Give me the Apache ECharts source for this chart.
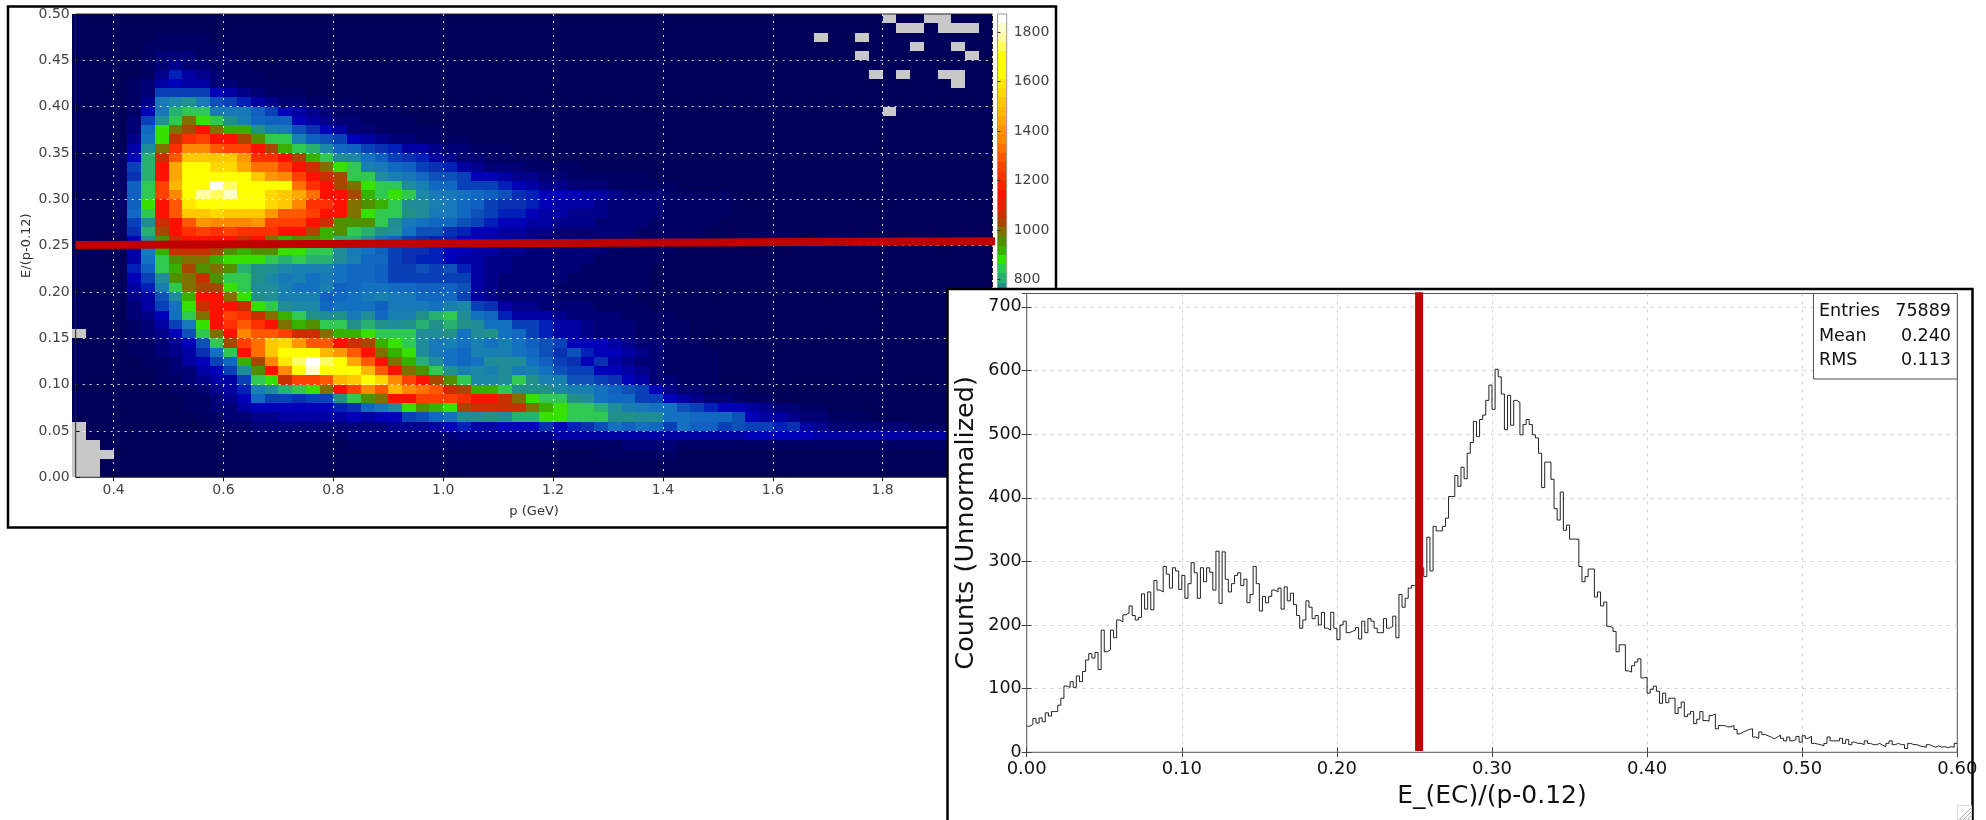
<!DOCTYPE html>
<html>
<head>
<meta charset="utf-8">
<style>html,body{margin:0;padding:0;background:#fff}#main{width:1986px;height:820px}#main canvas{filter:blur(.35px)}</style>
<script src="https://cdn.jsdelivr.net/npm/echarts@6/dist/echarts.min.js"></script>
</head>
<body>
<div id="main"></div>
<script>
// ---- 2D histogram: counts per cell. Columns start at p = 0.325 in 0.025 GeV steps; rows named by E/(p-0.12) low edge x 100
const rowE49=[4,4,4,6,14,20,24,26,26,24, 20,16,14,14,12,10,10,10,8,8, 8,8,8,8,8,6,6,6,6,6, 6,6,6,6,6,6,6,6,6,6, 5,5,5,5,5,5,5,5,5,5, 5,5,5,5,5,5,4,4,4,0, 4,4,0,0,4,4,4];
const rowE48=[4,4,5,8,16,24,30,32,30,28, 24,18,16,14,12,12,10,10,10,8, 8,8,8,8,8,8,8,6,6,6, 6,6,6,6,6,6,6,6,6,6, 5,5,5,5,5,5,5,5,5,5, 5,5,5,5,5,5,5,4,4,4, 0,0,4,0,0,0,4];
const rowE47=[4,4,6,10,20,30,40,42,44,38, 30,22,18,16,14,12,12,10,10,10, 10,8,8,8,8,8,8,8,8,6, 6,6,6,6,6,6,6,6,6,6, 5,5,5,5,5,5,5,5,5,5, 5,5,5,5,0,5,5,0,4,4, 4,4,4,4,4,4,4];
const rowE46=[4,4,6,12,25,40,60,65,60,50, 40,35,25,20,16,14,12,12,10,10, 10,10,8,8,8,8,8,8,8,8, 6,6,6,6,6,6,6,6,6,6, 6,5,5,5,5,5,5,5,5,5, 5,5,5,5,5,5,5,5,4,4, 4,0,4,4,0,4,4];
const rowE45=[4,4,6,14,30,50,80,90,80,70, 55,45,35,28,20,16,14,12,12,10, 10,10,10,8,8,8,8,8,8,8, 8,6,6,6,6,6,6,6,6,6, 6,6,5,5,5,5,5,5,5,5, 5,5,5,5,5,5,5,0,5,4, 4,4,4,4,4,0,4];
const rowE44=[4,4,7,14,30,60,110,125,110,90, 70,55,40,32,25,20,16,14,12,12, 10,10,10,10,8,8,8,8,8,8, 8,8,6,6,6,6,6,6,6,6, 6,6,6,5,5,5,5,5,5,5, 5,5,5,5,5,5,5,5,5,5, 4,4,4,4,4,4,4];
const rowE43=[4,4,7,14,35,70,130,240,150,120, 90,60,50,45,35,26,20,16,14,12, 12,10,10,10,10,8,8,8,8,8, 8,8,6,6,6,6,6,6,6,6, 6,6,6,6,5,5,5,5,5,5, 5,5,5,5,5,5,5,5,0,5, 0,5,5,0,0,4,4];
const rowE42=[4,4,8,14,40,80,170,200,180,150, 110,80,70,50,42,34,26,20,16,14, 12,12,10,10,10,10,8,8,8,8, 8,8,8,6,6,6,6,6,6,6, 6,6,6,6,6,5,5,5,5,5, 5,5,5,5,5,5,5,5,5,5, 5,5,5,5,0,4,4];
const rowE41=[4,5,8,14,40,90,300,310,320,310, 190,170,120,90,60,50,40,35,30,28, 25,22,20,18,16,15,14,14,12,12, 12,10,10,10,10,10,10,9,9,9, 8,8,8,8,8,8,8,8,8,8, 7,7,7,7,7,7,6,6,6,6, 6,6,6,6,6,6,6];
const rowE40=[4,5,8,16,60,130,520,590,640,490, 350,320,250,170,130,100,80,60,50,45, 40,35,30,28,25,22,20,18,16,15, 14,14,12,12,12,12,10,10,10,10, 10,10,9,9,9,9,8,8,8,8, 8,8,8,8,8,7,7,7,7,7, 7,7,7,6,6,6,6];
const rowE39=[4,5,9,18,70,200,520,800,830,830, 520,520,500,400,300,220,170,120,90,70, 60,50,45,40,35,30,28,25,22,20, 18,16,15,14,14,12,12,12,10,10, 10,10,10,9,9,9,9,8,8,8, 8,8,8,8,8,8,7,7,7,0, 7,7,7,7,6,6,6];
const rowE38=[4,5,10,22,90,300,650,860,995,890, 860,770,530,420,400,400,220,170,120,90, 75,60,50,45,40,35,30,28,25,22, 20,18,16,15,14,14,12,12,12,10, 10,10,10,10,9,9,9,9,8,8, 8,8,8,8,8,8,8,7,7,7, 7,7,7,7,7,6,6];
const rowE37=[4,5,11,25,110,420,890,990,1030,1140, 995,930,930,770,560,500,350,280,220,150, 110,85,70,60,50,45,40,35,30,26, 22,20,18,16,15,14,14,12,12,12, 11,11,10,10,10,10,9,9,9,9, 8,8,8,8,8,8,8,8,7,7, 7,7,7,7,7,7,6];
const rowE36=[4,5,12,28,130,480,890,1070,1200,1240, 1160,1140,1030,970,830,830,560,400,360,300, 190,160,130,100,80,65,55,48,42,36, 30,26,22,20,18,16,15,14,14,12, 12,12,11,11,10,10,10,10,9,9, 9,9,8,8,8,8,8,8,8,7, 7,7,7,7,7,7,7];
const rowE35=[4,6,14,32,160,600,995,1200,1350,1350, 1300,1240,1240,1160,1030,930,830,800,580,440, 380,300,280,260,180,150,120,95,75,60, 50,42,36,30,26,22,20,18,16,15, 14,14,12,12,12,11,11,10,10,10, 9,9,9,9,8,8,8,8,8,8, 8,7,7,7,7,7,7];
const rowE34=[5,7,16,40,200,800,1070,1300,1500,1500, 1500,1500,1420,1220,1220,1140,1030,930,850,620, 580,480,380,330,280,240,170,130,110,90, 70,60,50,42,36,30,26,22,20,18, 16,15,14,14,12,12,12,11,11,10, 10,10,9,9,9,9,8,8,8,8, 8,8,8,7,7,7,7];
const rowE33=[5,8,18,45,330,800,1160,1430,1640,1700, 1560,1540,1450,1340,1340,1240,1140,1070,995,890, 850,560,520,420,400,300,280,240,170,140, 110,90,80,70,55,48,42,36,30,26, 22,20,18,16,15,14,14,12,12,11, 11,10,10,10,9,9,9,9,8,8, 8,8,8,8,7,7,7];
const rowE32=[5,8,20,48,280,800,1160,1430,1640,1720, 1720,1640,1640,1520,1420,1350,1240,1140,1070,1030, 850,830,600,540,500,430,350,350,310,220, 200,180,140,120,95,80,70,60,55,50, 45,40,35,30,28,24,22,20,18,16, 15,14,14,12,12,11,11,10,10,10, 9,9,9,8,8,8,8];
const rowE31=[5,8,22,50,390,830,1240,1470,1640,1640, 1873,1730,1720,1640,1640,1640,1340,1200,1160,1030, 995,890,830,830,620,560,430,420,330,300, 300,250,200,160,130,120,100,90,75,65, 55,50,45,40,35,30,26,22,20,18, 16,15,14,12,12,11,11,10,10,10, 9,9,9,8,8,8,8];
const rowE30=[5,8,22,50,400,830,1240,1350,1620,1780, 1730,1820,1720,1720,1560,1500,1450,1340,1160,1140, 1030,930,850,890,830,580,520,500,450,430, 380,350,280,240,210,200,190,180,170,120, 100,85,75,65,55,50,45,40,35,30, 26,22,20,18,16,15,14,14,12,12, 11,10,10,10,9,9,9];
const rowE29=[5,8,22,50,400,890,1140,1300,1580,1640, 1640,1640,1640,1640,1540,1520,1350,1220,1200,1140, 995,970,930,850,600,600,530,520,420,380, 300,280,270,230,190,170,180,160,130,110, 95,85,75,65,55,50,45,40,35,30, 26,22,20,18,16,15,14,14,12,12, 11,11,10,10,9,9,9];
const rowE28=[5,8,20,48,440,830,1140,1300,1500,1500, 1540,1520,1520,1520,1420,1300,1300,1240,1140,1140, 995,890,860,830,770,600,520,500,420,360, 300,260,230,190,170,150,140,140,130,110, 95,85,75,65,55,50,45,40,35,30, 26,22,20,18,16,15,14,14,12,12, 11,11,10,10,9,9,9];
const rowE27=[5,7,18,45,300,600,1070,1140,1290,1400, 1380,1350,1350,1420,1240,1240,1240,1140,1070,960, 960,960,830,620,500,480,440,420,350,300, 260,220,190,170,150,130,120,120,110,100, 90,80,70,60,50,45,40,35,30,28, 24,20,18,16,15,14,14,12,12,11, 11,10,10,9,9,9,8];
const rowE26=[5,7,16,40,280,790,1030,1140,1220,1240, 1220,1240,1220,1220,1200,1140,1140,1030,930,960, 830,800,770,640,450,370,340,280,240,210, 190,170,150,135,120,110,100,100,90,85, 75,65,55,50,45,40,35,30,26,24, 20,18,16,15,14,14,12,12,11,10, 10,10,9,9,9,8,8];
const rowE25=[4,6,14,35,220,620,960,1070,1140,1140, 1140,1140,1070,1140,995,930,960,950,930,800, 790,630,480,380,330,290,260,240,210,190, 170,150,135,120,110,100,95,90,85,80, 70,60,50,45,40,35,30,28,24,22, 18,16,15,14,14,12,12,11,10,10, 10,9,9,9,8,8,8];
const rowE24=[4,6,13,32,180,500,930,1050,1060,1060, 1040,970,930,970,970,890,870,830,830,610, 520,480,400,330,290,270,240,220,190,170, 155,135,120,110,100,90,85,80,75,70, 60,55,45,40,35,30,28,24,22,20, 18,16,14,14,12,11,10,10,10,9, 9,9,8,8,8,8,8];
const rowE23=[4,6,12,30,170,480,860,970,1000,1000, 930,890,890,890,850,790,830,800,800,600, 560,440,420,330,280,250,230,210,180,160, 145,125,110,100,90,85,80,75,70,65, 55,50,40,35,30,28,24,22,20,18, 16,14,12,12,11,10,10,9,9,9, 8,8,8,8,8,7,7];
const rowE22=[4,5,11,28,260,400,830,930,1030,970, 995,960,800,770,640,580,560,530,550,480, 440,420,380,330,330,360,330,360,250,160, 135,115,100,90,85,80,75,70,65,60, 50,45,35,30,28,24,22,20,18,16, 14,12,11,10,10,10,9,9,8,8, 8,8,7,7,7,7,7];
const rowE21=[4,5,10,25,200,300,620,950,995,1070, 970,850,850,770,590,500,530,480,520,450, 430,420,380,320,320,330,320,330,300,170, 130,110,95,85,80,75,70,65,60,55, 45,40,35,30,26,22,20,18,16,15, 14,12,11,10,10,10,9,9,8,8, 8,7,7,7,7,7,7];
const rowE20=[4,5,9,22,160,230,550,850,995,1030, 1030,890,830,620,600,540,460,480,540,400, 430,480,450,430,420,380,400,380,360,170, 125,105,90,80,75,70,65,60,55,50, 42,38,32,28,24,20,18,16,15,14, 12,11,10,10,9,9,9,8,8,8, 7,7,7,7,6,6,6];
const rowE19=[4,5,8,20,120,180,350,620,930,1140, 1160,995,890,770,640,560,530,530,380,440, 470,500,530,510,520,430,430,420,330,170, 125,105,90,80,75,70,65,60,55,48, 40,36,30,26,22,20,18,15,14,12, 11,10,10,9,9,8,8,8,7,7, 7,7,6,6,6,6,6];
const rowE18=[3,4,7,18,100,150,300,480,890,1070, 1160,1160,1070,890,850,630,570,580,420,470, 470,470,400,500,500,520,480,550,570,320, 280,170,135,115,100,90,80,75,70,60, 50,42,36,30,26,22,20,18,16,14, 12,11,10,10,9,9,8,8,8,7, 7,7,6,6,6,6,6];
const rowE17=[3,4,6,16,85,130,200,450,830,995, 1160,1240,1200,1070,1000,930,850,770,600,770, 500,620,440,540,560,770,800,830,620,460, 430,260,180,170,150,130,110,100,90,75, 65,55,45,38,32,28,24,20,18,16, 14,12,11,10,10,9,9,8,8,8, 7,7,7,6,6,6,6];
const rowE16=[3,4,6,14,70,100,160,330,520,890, 1160,1220,1300,1200,1140,995,930,950,830,850, 770,800,770,620,770,800,770,800,770,620, 480,450,310,300,230,180,150,130,110,95, 80,65,55,45,38,32,28,24,20,18, 16,14,12,11,10,10,9,9,8,8, 8,7,7,7,6,6,6];
const rowE15=[0,4,5,12,60,85,140,220,350,830, 995,1160,1350,1290,1300,1240,1070,1070,995,930, 930,890,850,850,850,620,620,770,470,620, 770,480,420,330,230,170,150,130,110,95, 80,65,55,45,38,32,28,24,20,18, 16,14,12,11,10,10,9,9,8,8, 8,7,7,7,6,6,6];
const rowE14=[3,3,5,10,50,70,110,130,200,350, 830,1030,1240,1340,1520,1540,1420,1290,1280,1160, 1070,1030,930,890,830,620,520,530,480,560, 470,560,470,400,340,320,210,200,190,150, 120,95,75,60,48,40,34,28,24,20, 18,15,14,12,11,10,10,9,9,8, 8,8,7,7,7,6,6];
const rowE13=[3,3,4,9,40,60,90,120,180,270, 450,830,1140,1340,1520,1640,1640,1640,1480,1400, 1290,1160,1000,930,890,620,520,480,430,560, 560,560,470,440,350,290,350,240,210,200, 150,120,90,70,55,45,38,30,26,22, 20,16,14,12,11,10,10,9,9,8, 8,8,7,7,7,7,6];
const rowE12=[3,3,4,8,30,45,70,100,150,200, 320,420,930,1030,1380,1600,1730,1873,1730,1640, 1450,1290,1140,990,930,800,600,480,420,450, 620,620,620,480,400,320,290,220,280,170, 140,110,90,70,55,45,38,32,26,22, 20,16,14,12,11,10,10,9,9,8, 8,8,7,7,7,7,6];
const rowE11=[3,3,4,7,22,35,50,75,110,150, 220,300,620,970,1160,1380,1640,1800,1640,1640, 1640,1480,1300,1140,1000,960,850,680,560,570, 560,620,520,540,480,360,330,320,220,190, 150,120,90,70,55,45,38,32,26,22, 20,16,14,12,11,10,10,9,9,8, 8,8,7,7,7,7,6];
const rowE10=[3,3,4,6,18,25,40,60,90,120, 150,180,300,830,890,1070,1240,1240,1300,1480, 1520,1620,1540,1350,1260,1140,1030,950,850,580, 580,600,830,770,560,540,360,340,310,280, 210,150,110,85,65,50,42,34,28,24, 20,18,15,14,12,11,10,10,9,9, 8,8,8,8,7,7,7];
const rowE09=[3,3,4,6,14,20,30,45,65,90, 120,160,240,560,620,800,860,890,995,1160, 1250,1350,1290,1480,1350,1340,1300,1070,1030,930, 930,850,770,770,770,580,560,540,480,400, 370,310,200,140,110,85,65,50,40,34, 28,24,20,18,15,14,12,11,10,10, 9,9,8,8,8,8,7];
const rowE08=[3,3,4,5,11,15,24,36,50,70, 95,120,200,420,300,300,290,300,320,770, 830,960,1000,1160,1140,1240,1260,1260,1200,1160, 1140,1070,995,890,850,830,770,620,480,430, 420,330,300,190,160,130,100,80,60,48, 38,30,26,22,18,15,14,12,11,10, 10,9,9,8,8,8,8];
const rowE07=[3,3,3,5,9,12,18,26,38,55, 80,110,150,190,190,220,220,210,210,230, 280,420,520,620,890,950,930,890,1030,1070, 1070,1070,1070,995,930,890,830,830,800,620, 560,500,480,470,350,300,240,200,190,150, 120,95,75,60,45,36,28,24,20,16, 14,12,11,10,10,9,9];
const rowE06=[3,3,3,4,7,9,14,20,30,45, 70,90,110,130,130,150,150,150,150,170, 190,180,220,210,330,370,440,480,600,600, 770,620,790,790,890,890,830,850,830,770, 770,620,600,480,480,430,420,420,350,190, 180,170,140,110,90,70,55,45,36,30, 26,22,20,16,14,12,11];
const rowE05=[0,3,3,4,6,8,10,14,20,30, 48,70,70,75,80,85,90,90,95,100, 100,105,110,115,120,130,170,200,230,180, 180,190,190,220,280,200,230,280,350,450, 400,480,440,300,480,400,400,300,350,330, 300,230,270,170,120,110,100,90,85,80, 75,70,65,60,55,50,45];
const rowE04=[0,3,3,3,5,6,8,10,14,18, 24,30,36,40,45,50,55,60,65,70, 75,80,85,90,95,100,105,110,115,120, 125,130,135,140,145,150,155,155,160,165, 170,170,175,175,180,180,185,185,185,190, 190,190,190,190,185,185,185,180,180,180, 175,175,170,170,165,165,160];
const rowE03=[0,0,3,3,4,5,6,8,10,12, 15,18,20,24,26,28,30,32,34,36, 38,40,42,44,46,48,50,50,55,55, 60,60,60,65,65,65,70,70,70,70, 75,75,75,75,70,70,70,70,70,65, 65,65,65,60,60,60,60,60,55,55, 55,55,50,50,50,50,50];
const rowE02=[0,0,0,3,3,4,5,6,7,8, 10,12,14,15,16,18,20,20,22,22, 24,24,26,26,28,28,30,30,30,32, 32,32,34,34,34,36,36,36,38,38, 38,38,38,38,36,36,36,36,34,34, 34,32,32,32,30,30,30,30,28,28, 28,26,26,26,24,24,24];
const rowE01=[0,0,3,3,3,3,4,5,5,6, 7,8,9,10,10,11,12,12,13,14, 14,15,15,16,16,17,18,18,18,19, 19,19,20,20,20,21,21,21,22,22, 22,22,22,22,21,21,21,20,20,20, 19,19,18,18,18,17,17,16,16,16, 15,15,14,14,14,13,13];
const rowE00=[0,0,3,3,3,3,3,3,4,4, 4,5,5,5,6,6,6,7,7,7, 8,8,8,8,9,9,9,9,10,10, 10,10,10,11,11,11,11,11,12,12, 12,12,12,11,11,11,11,11,10,10, 10,10,10,9,9,9,9,9,8,8, 8,8,8,7,7,7,7];

const heatRowsBottomUp=[rowE00,rowE01,rowE02,rowE03,rowE04,rowE05,rowE06,rowE07,rowE08,rowE09,rowE10,rowE11,rowE12,rowE13,rowE14,rowE15,rowE16,rowE17,rowE18,rowE19,rowE20,rowE21,rowE22,rowE23,rowE24,rowE25,rowE26,rowE27,rowE28,rowE29,rowE30,rowE31,rowE32,rowE33,rowE34,rowE35,rowE36,rowE37,rowE38,rowE39,rowE40,rowE41,rowE42,rowE43,rowE44,rowE45,rowE46,rowE47,rowE48,rowE49];

// Palette levels from 0 up to 1873 counts, then the colour of empty cells
const paletteColors=['#000058','#000064','#000074','#00008a','#0000a2','#0000b8','#0020b8','#0830b0','#0840b8','#0c50b8','#1060c0','#1068c0','#1470c0','#1878b8','#1880b0','#1c88a8','#208c98','#209090','#209090','#209088','#209088','#28b070','#30c850','#38e000','#38b000','#509000','#807000','#a84800','#c83000','#e82000','#ff1000','#ff2000','#ff3000','#ff4000','#ff5800','#ff7000','#ff8800','#ff9800','#ffa800','#ffb800','#ffc800','#ffd800','#ffe800','#ffff00','#ffff00','#ffff00','#ffff60','#ffffa0','#ffffc8','#ffffff'];
const emptyColor='#c8c8c8';
const colorScaleMax=1873;

// Tick and axis text
const pMin=0.331, pMax=2.0, eMax=0.5;
const pTickValues=[0.4,0.6,0.8,1.0,1.2,1.4,1.6,1.8,2.0];
const leftXName='p (GeV)', leftYName='E/(p-0.12)';
const rightXName='E_(EC)/(p-0.12)', rightYName='Counts (Unnormalized)';

// Cut lines
const leftCutP=[0.331,2.0046], leftCutE=[0.2507,0.2547];
const rightCutX=[0.2530,0.2530], rightCutY=[2,723];

// 1D histogram counts in 0.002-wide bins from 0 to 0.6
const histCounts=[41,44,53,46,54,48,62,57,64,64,74,85,104,102,111,102,120,111,127,145,155,148,157,130,192,158,161,192,180,208,205,216,219,230,215,208,212,249,225,252,224,270,255,252,292,280,258,290,285,256,278,242,265,298,282,242,290,268,290,283,255,316,234,315,272,252,265,278,282,262,272,235,248,292,265,222,245,235,245,255,252,258,225,260,238,250,232,215,195,208,238,228,210,215,200,220,195,192,220,195,177,
200,206,188,190,192,196,178,206,188,210,206,195,188,188,210,195,198,214,180,248,228,242,258,262,265,285,290,276,338,285,355,348,348,355,368,402,402,435,418,448,430,470,487,520,496,523,530,553,577,539,602,590,563,507,561,514,553,550,499,515,523,515,499,494,470,416,456,456,429,383,365,409,349,357,335,335,335,292,268,276,288,288,244,252,230,236,198,196,190,158,169,169,128,126,136,142,147,
117,118,93,99,104,96,77,93,78,85,85,61,70,79,56,60,64,45,52,64,50,49,58,60,37,42,42,40,40,42,36,29,32,34,36,37,24,22,32,28,26,24,21,24,27,22,18,24,18,20,25,16,26,22,25,14,13,12,10,14,24,18,18,18,22,14,20,12,16,14,14,12,18,14,12,12,14,11,9,14,18,12,14,12,12,6,14,12,12,10,9,8,12,10,8,10,8,9,7,9,8,14];
const histBinWidth=0.002, histXMax=0.6, histYMax=721;

const statLabels=['Entries','Mean','RMS'];
const statValues=['75889','0.240','0.113'];

// ---- build
const pBinStart=0.325, pBin=0.025, eBin=0.01;
const heatData=[];
heatRowsBottomUp.forEach((row,r)=>row.forEach((v,k)=>heatData.push([pBinStart+k*pBin,r*eBin,v])));
const levelStep=colorScaleMax/paletteColors.length;
const colorOf=v=>v<=0?emptyColor:paletteColors[Math.min(paletteColors.length-1,Math.floor(v/levelStep))];

function renderCell(params,api){
  const a=api.coord([api.value(0),api.value(1)+eBin]);
  const b=api.coord([api.value(0)+pBin,api.value(1)]);
  const x0=Math.round(a[0]),y0=Math.round(a[1]),x1=Math.round(b[0]),y1=Math.round(b[1]);
  return {type:'rect',shape:{x:x0,y:y0,width:x1-x0,height:y1-y0},style:{fill:colorOf(api.value(2))}};
}
function renderLevel(params,api){
  const i=api.value(0);
  const a=api.coord([0,(i+1)*levelStep]);
  const b=api.coord([1,i*levelStep]);
  const y0=Math.round(a[1]),y1=Math.round(b[1]);
  return {type:'rect',shape:{x:a[0],y:y0,width:b[0]-a[0],height:y1-y0},style:{fill:paletteColors[i]}};
}
const histLine=histCounts.map((c,i)=>[i*histBinWidth,c]);
histLine.push([histXMax,histCounts[histCounts.length-1]]);

const FONT='DejaVu Sans';
const leftText={color:'#444',fontSize:14,fontFamily:FONT};
const leftSplit={show:true,showMaxLine:true,lineStyle:{color:'#fff',type:[2,5],width:1,opacity:.85}};
const leftTick={show:true,inside:true,length:4,lineStyle:{color:'#111'},customValues:pTickValues};
const leftYTick={show:true,inside:true,length:4,lineStyle:{color:'#111'}};
const rightText={color:'#111',fontSize:17.5,fontFamily:FONT};
const rightSplit={show:true,showMinLine:false,showMaxLine:false,lineStyle:{color:'#cfcfcf',type:[3,5],width:1}};
const rightTick={show:true,inside:true,length:5,lineStyle:{color:'#444'}};
const noAxisLine={show:false};

const option={
  animation:false,
  backgroundColor:'#fff',
  grid:[
    {left:75.7,top:14,width:916.8,height:463.3,show:true,borderColor:'#222',borderWidth:1,backgroundColor:'transparent',z:3},
    {left:997.5,top:14,width:9.2,height:463.3,show:true,borderColor:'#999',borderWidth:1,backgroundColor:'transparent',z:3},
    {left:1026.7,top:293.5,width:930.6,height:458.8,show:true,borderColor:'#555',borderWidth:1,backgroundColor:'transparent',z:20}
  ],
  xAxis:[
    {gridIndex:0,type:'value',min:pMin,max:pMax,z:3,
     axisLine:noAxisLine,axisTick:leftTick,splitLine:leftSplit,
     axisLabel:Object.assign({margin:6.5,customValues:pTickValues,formatter:v=>v.toFixed(1)},leftText),
     name:leftXName,nameLocation:'middle',nameGap:28,nameTextStyle:{color:'#333',fontSize:13,fontFamily:FONT}},
    {gridIndex:0,type:'value',position:'top',min:pMin,max:pMax,z:3,
     axisLine:noAxisLine,axisTick:leftTick,splitLine:{show:false},axisLabel:{show:false}},
    {gridIndex:1,type:'value',min:0,max:1,show:false},
    {gridIndex:2,type:'value',min:0,max:histXMax,interval:0.1,z:20,
     axisLine:noAxisLine,axisTick:rightTick,splitLine:rightSplit,
     axisLabel:Object.assign({margin:8,formatter:v=>v.toFixed(2)},rightText,{fontSize:18}),
     name:rightXName,nameLocation:'middle',nameGap:32,nameTextStyle:{color:'#111',fontSize:25,fontFamily:FONT}},
    {gridIndex:2,type:'value',position:'top',min:0,max:histXMax,interval:0.1,z:20,
     axisLine:noAxisLine,axisTick:rightTick,splitLine:{show:false},axisLabel:{show:false}}
  ],
  yAxis:[
    {gridIndex:0,type:'value',min:0,max:eMax,interval:0.05,z:3,
     axisLine:noAxisLine,axisTick:leftYTick,splitLine:Object.assign({},leftSplit,{showMaxLine:false,showMinLine:false}),
     axisLabel:Object.assign({margin:6,formatter:v=>v.toFixed(2)},leftText),
     name:leftYName,nameLocation:'middle',nameGap:43,nameTextStyle:{color:'#333',fontSize:13,fontFamily:FONT}},
    {gridIndex:0,type:'value',position:'right',min:0,max:eMax,interval:0.05,z:3,
     axisLine:noAxisLine,axisTick:leftYTick,splitLine:{show:false},axisLabel:{show:false}},
    {gridIndex:1,type:'value',position:'right',min:0,max:colorScaleMax,interval:200,z:3,
     axisLine:noAxisLine,axisTick:{show:true,inside:false,length:3,lineStyle:{color:'#333'}},splitLine:{show:false},
     axisLabel:Object.assign({margin:7,showMaxLabel:false,formatter:v=>String(v)},leftText)},
    {gridIndex:2,type:'value',min:0,max:histYMax,interval:100,z:20,
     axisLine:noAxisLine,axisTick:rightTick,splitLine:rightSplit,
     axisLabel:Object.assign({margin:5,showMaxLabel:false},rightText),
     name:rightYName,nameLocation:'middle',nameGap:47,nameTextStyle:{color:'#111',fontSize:25.5,fontFamily:FONT}},
    {gridIndex:2,type:'value',position:'right',min:0,max:histYMax,interval:100,z:20,
     axisLine:noAxisLine,axisTick:rightTick,splitLine:{show:false},axisLabel:{show:false}}
  ],
  series:[
    {type:'custom',name:'E/(p-0.12) vs p',xAxisIndex:0,yAxisIndex:0,coordinateSystem:'cartesian2d',renderItem:renderCell,data:heatData,clip:true,z:2,silent:true,encode:{x:0,y:1}},
    {type:'custom',name:'Colour scale',xAxisIndex:2,yAxisIndex:2,coordinateSystem:'cartesian2d',renderItem:renderLevel,data:paletteColors.map((c,i)=>[i]),z:2,silent:true,encode:{y:0}},
    {type:'line',name:'Left cut',xAxisIndex:0,yAxisIndex:0,data:leftCutP.map((p,i)=>[p,leftCutE[i]]),showSymbol:false,clip:false,z:4,silent:true,lineStyle:{color:'#c00000',width:8,cap:'butt'}},
    {type:'line',name:'Counts',xAxisIndex:3,yAxisIndex:3,data:histLine,step:'end',showSymbol:false,clip:true,z:21,silent:true,lineStyle:{color:'#222',width:1}},
    {type:'line',name:'Right cut',xAxisIndex:3,yAxisIndex:3,data:rightCutX.map((x,i)=>[x,rightCutY[i]]),showSymbol:false,clip:false,z:22,silent:true,lineStyle:{color:'#c00000',width:8,cap:'butt'}}
  ],
  graphic:{elements:[
    {type:'rect',z:5,silent:true,shape:{x:8,y:6.5,width:1048,height:521},style:{fill:'transparent',stroke:'#000',lineWidth:2.5}},
    {type:'rect',z:10,silent:true,shape:{x:947.5,y:289,width:1025,height:560},style:{fill:'#fff',stroke:'#000',lineWidth:2.5}},
    {type:'rect',z:25,silent:true,shape:{x:1813.5,y:293.5,width:143.8,height:85.5},style:{fill:'#fff',stroke:'#555',lineWidth:1}},
    ...statLabels.map((t,i)=>({type:'text',z:26,silent:true,x:1819,y:311.5+i*24.5,style:{text:t,fill:'#111',font:'17.5px "DejaVu Sans"',textAlign:'left',textVerticalAlign:'middle'}})),
    ...statValues.map((t,i)=>({type:'text',z:26,silent:true,x:1951,y:311.5+i*24.5,style:{text:t,fill:'#111',font:'17.5px "DejaVu Sans"',textAlign:'right',textVerticalAlign:'middle'}})),
    {type:'rect',z:25,silent:true,shape:{x:1957.5,y:805.5,width:14,height:14},style:{fill:'#fff',stroke:'#d8d8d8',lineWidth:1}},
    {type:'line',z:26,silent:true,shape:{x1:1960,y1:819,x2:1971,y2:808},style:{stroke:'#b0b0b0',lineWidth:1}},
    {type:'line',z:26,silent:true,shape:{x1:1964,y1:819,x2:1971,y2:812},style:{stroke:'#b0b0b0',lineWidth:1}},
    {type:'line',z:26,silent:true,shape:{x1:1968,y1:819,x2:1971,y2:816},style:{stroke:'#b0b0b0',lineWidth:1}}
  ]}
};
const chart=echarts.init(document.getElementById('main'),null,{renderer:'canvas',width:1986,height:820});
chart.setOption(option);
</script>
</body>
</html>
